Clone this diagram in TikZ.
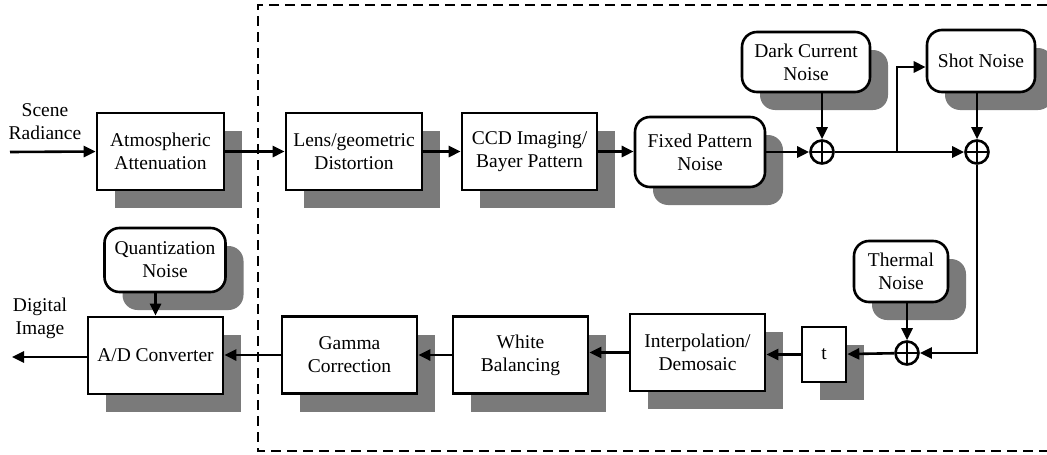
\documentclass[tikz,border=0pt]{standalone}
\usepackage{fontspec}
\setmainfont{Liberation Serif}
\usetikzlibrary{shadows,arrows.meta,calc}
\begin{document}
\begin{tikzpicture}[x=1pt,y=-1pt,
  >={Triangle[length=12pt,width=11pt]},
  line width=2.6pt,
  font=\fontsize{19.5}{23}\selectfont,
  shad/.style={drop shadow={shadow xshift=18pt,shadow yshift=-18pt,fill=black!52,opacity=1}},
  blk/.style={draw,fill=white,shad,align=center,inner sep=0pt},
  rblk/.style={blk,rounded corners=15pt},
  sumnode/.style={circle,draw,fill=white,minimum size=23pt,inner sep=0pt,
    path picture={\draw[line width=2pt] (path picture bounding box.north) -- (path picture bounding box.south)
      (path picture bounding box.west) -- (path picture bounding box.east);}},
  lbl/.style={align=center,inner sep=0pt},
  dashbox/.style={line width=1.8pt,dash pattern=on 10pt off 6pt}]
\useasboundingbox (0,0) rectangle (1047,455);
% dashed frame
\draw[dashbox] (1047,5) -- (258,5) -- (258,451) -- (1047,451);
% top row
\node[blk,minimum width=127pt,minimum height=77pt] (atm) at (160.5,151.5) {Atmospheric\\Attenuation};
\node[blk,minimum width=136pt,minimum height=77pt] (lens) at (354,151.5) {Lens/geometric\\Distortion};
\node[blk,minimum width=135pt,minimum height=77pt] (ccd) at (529.5,151.5) {CCD Imaging/\\Bayer Pattern};
\node[rblk,minimum width=130pt,minimum height=70pt] (fpn) at (700,152) {Fixed Pattern\\Noise};
\node[sumnode] (s1) at (822,152) {};
\node[rblk,minimum width=128pt,minimum height=60pt] (dcn) at (806,62) {Dark Current\\Noise};
\node[rblk,minimum width=108pt,minimum height=62pt] (shot) at (981,61) {Shot Noise};
\node[sumnode] (s2) at (977,152) {};
\coordinate (br) at (897,152);
% bottom row
\node[rblk,minimum width=94pt,minimum height=61pt] (therm) at (901,271.5) {Thermal\\Noise};
\node[sumnode] (s3) at (907,353) {};
\node[blk,minimum width=44pt,minimum height=55pt] (t) at (824,354.5) {t};
\node[blk,minimum width=135pt,minimum height=77pt] (interp) at (697.5,352.5) {Interpolation/\\Demosaic};
\node[blk,minimum width=135pt,minimum height=77pt] (white) at (520.5,355) {White\\Balancing};
\node[blk,minimum width=135pt,minimum height=77pt] (gamma) at (349.5,355) {Gamma\\Correction};
\node[blk,minimum width=135pt,minimum height=77pt] (ad) at (155.5,355.5) {A/D Converter};
\node[rblk,minimum width=121pt,minimum height=64pt] (quant) at (165,260) {Quantization\\Noise};
% labels
\node[lbl] (scene) at (45,122) {Scene\\Radiance};
\node[lbl] (digi) at (40,318.5) {Digital\\Image};
\coordinate (in) at (10,152);
\coordinate (out) at (12,357);
% connectors
\draw[->] (in) -- (atm.west);
\draw[->] (atm) -- (lens);
\draw[->] (lens) -- (ccd);
\draw[->] (ccd) -- (ccd -| fpn.west);
\draw[->] (fpn.east |- s1) -- (s1);
\draw[->] (s1 |- dcn.south) -- (s1);
\draw[->] (s1) -- (s2);
\draw[->] (br) |- ([yshift=-6pt]shot.west);
\draw[->] (s2 |- shot.south) -- (s2);
\draw[->] (s2) |- (s3);
\draw[->] (s3 |- therm.south) -- (s3);
\draw[->] (s3) -- (t);
\draw[->] (t.west) -- (t.west -| interp.east);
\draw[->] (interp.west) -- (interp.west -| white.east);
\draw[->] (white) -- (gamma);
\draw[->] (gamma.west) -- (gamma.west -| ad.east);
\draw[->] (quant.south -| ad.north) -- (ad.north);
\draw[->] (ad.west |- out) -- (out);
\end{tikzpicture}
\end{document}
